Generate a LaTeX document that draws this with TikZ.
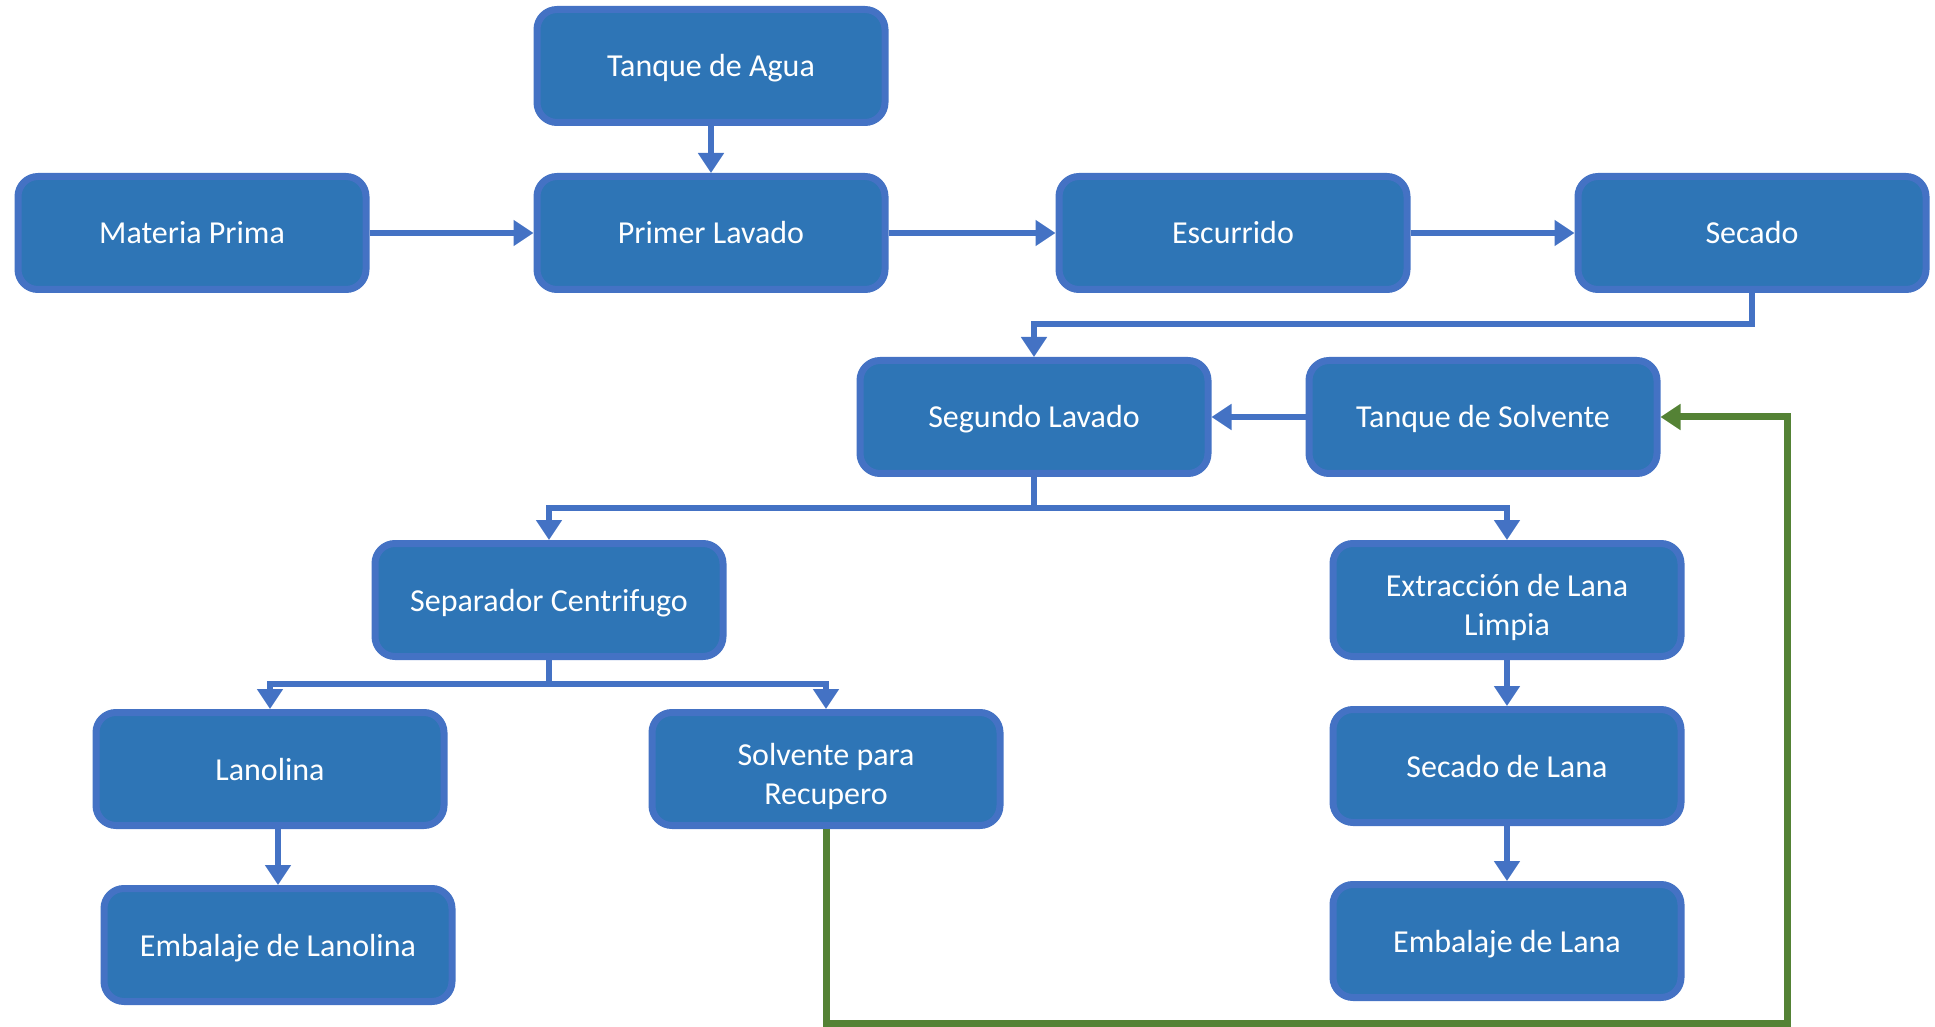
\documentclass[tikz,border=0pt]{standalone}
\usepackage{fontspec}
\setmainfont{Carlito}
\usetikzlibrary{arrows.meta}
\definecolor{boxfill}{HTML}{2E75B6}
\definecolor{boxline}{HTML}{4472C4}
\definecolor{loopgreen}{HTML}{548235}
\newcommand{\toplinestrut}{\rule{0pt}{20pt}}
\tikzset{
  procbox/.style={draw=boxline, line width=3.5pt, fill=boxfill, rounded corners=10pt,
    minimum width=174pt, minimum height=56.5pt, inner sep=0pt, align=center,
    text=white, font=\fontsize{16pt}{19.8pt}\selectfont,
    execute at begin node={\rule{0pt}{15pt}},
    execute at end node={\rule[-4pt]{0pt}{4pt}}},
  flow/.style={draw=boxline, line width=3.2pt, -{Triangle[width=12.5pt,length=10pt]}},
  flowline/.style={draw=boxline, line width=3.2pt},
  back/.style={draw=loopgreen, line width=3.5pt, -{Triangle[width=12.5pt,length=10pt]}}
}
\begin{document}
\begin{tikzpicture}[x=0.5pt,y=-0.5pt]
\useasboundingbox (0,0) rectangle (1935,1027);
\node[procbox] (agua) at (711,66) {Tanque de Agua};
\node[procbox] (mat) at (192,233) {Materia Prima};
\node[procbox] (pri) at (711,233) {Primer Lavado};
\node[procbox] (esc) at (1233,233) {Escurrido};
\node[procbox] (sec) at (1752,233) {Secado};
\node[procbox] (seg) at (1034,417) {Segundo Lavado};
\node[procbox] (tsol) at (1483,417) {Tanque de Solvente};
\node[procbox] (sep) at (549,600) {Separador Centrifugo};
\node[procbox] (ext) at (1507,600) {\toplinestrut Extracción de Lana\\Limpia};
\node[procbox] (lan) at (270,769) {Lanolina};
\node[procbox] (sol) at (826,769) {\toplinestrut Solvente para\\Recupero};
\node[procbox] (slana) at (1507,766) {Secado de Lana};
\node[procbox] (emb1) at (278,945) {Embalaje de Lanolina};
\node[procbox] (emb2) at (1507,941) {Embalaje de Lana};
\coordinate (j1) at (0,324);
\coordinate (j2) at (0,508);
\coordinate (j3) at (0,684);
\coordinate (g1) at (1787,1023);
\draw[flow] (agua.south) -- (pri.north);
\draw[flow] (mat.east) -- (pri.west);
\draw[flow] (pri.east) -- (esc.west);
\draw[flow] (esc.east) -- (sec.west);
\draw[flow] (sec.south) |- (seg.north |- j1) -- (seg.north);
\draw[flow] (tsol.west) -- (seg.east |- tsol.west);
\draw[flowline] (seg.south) -- (seg.south |- j2);
\draw[flow] (seg.south |- j2) -| (sep.north);
\draw[flow] (seg.south |- j2) -| (ext.north);
\draw[flowline] (sep.south) -- (sep.south |- j3);
\draw[flow] (sep.south |- j3) -| (lan.north);
\draw[flow] (sep.south |- j3) -| (sol.north);
\draw[flow] (lan.south -| emb1.north) -- (emb1.north);
\draw[flow] (ext.south) -- (slana.north);
\draw[flow] (slana.south) -- (emb2.north);
\draw[back] (sol.south) |- (g1) |- (tsol.east);
\end{tikzpicture}
\end{document}
